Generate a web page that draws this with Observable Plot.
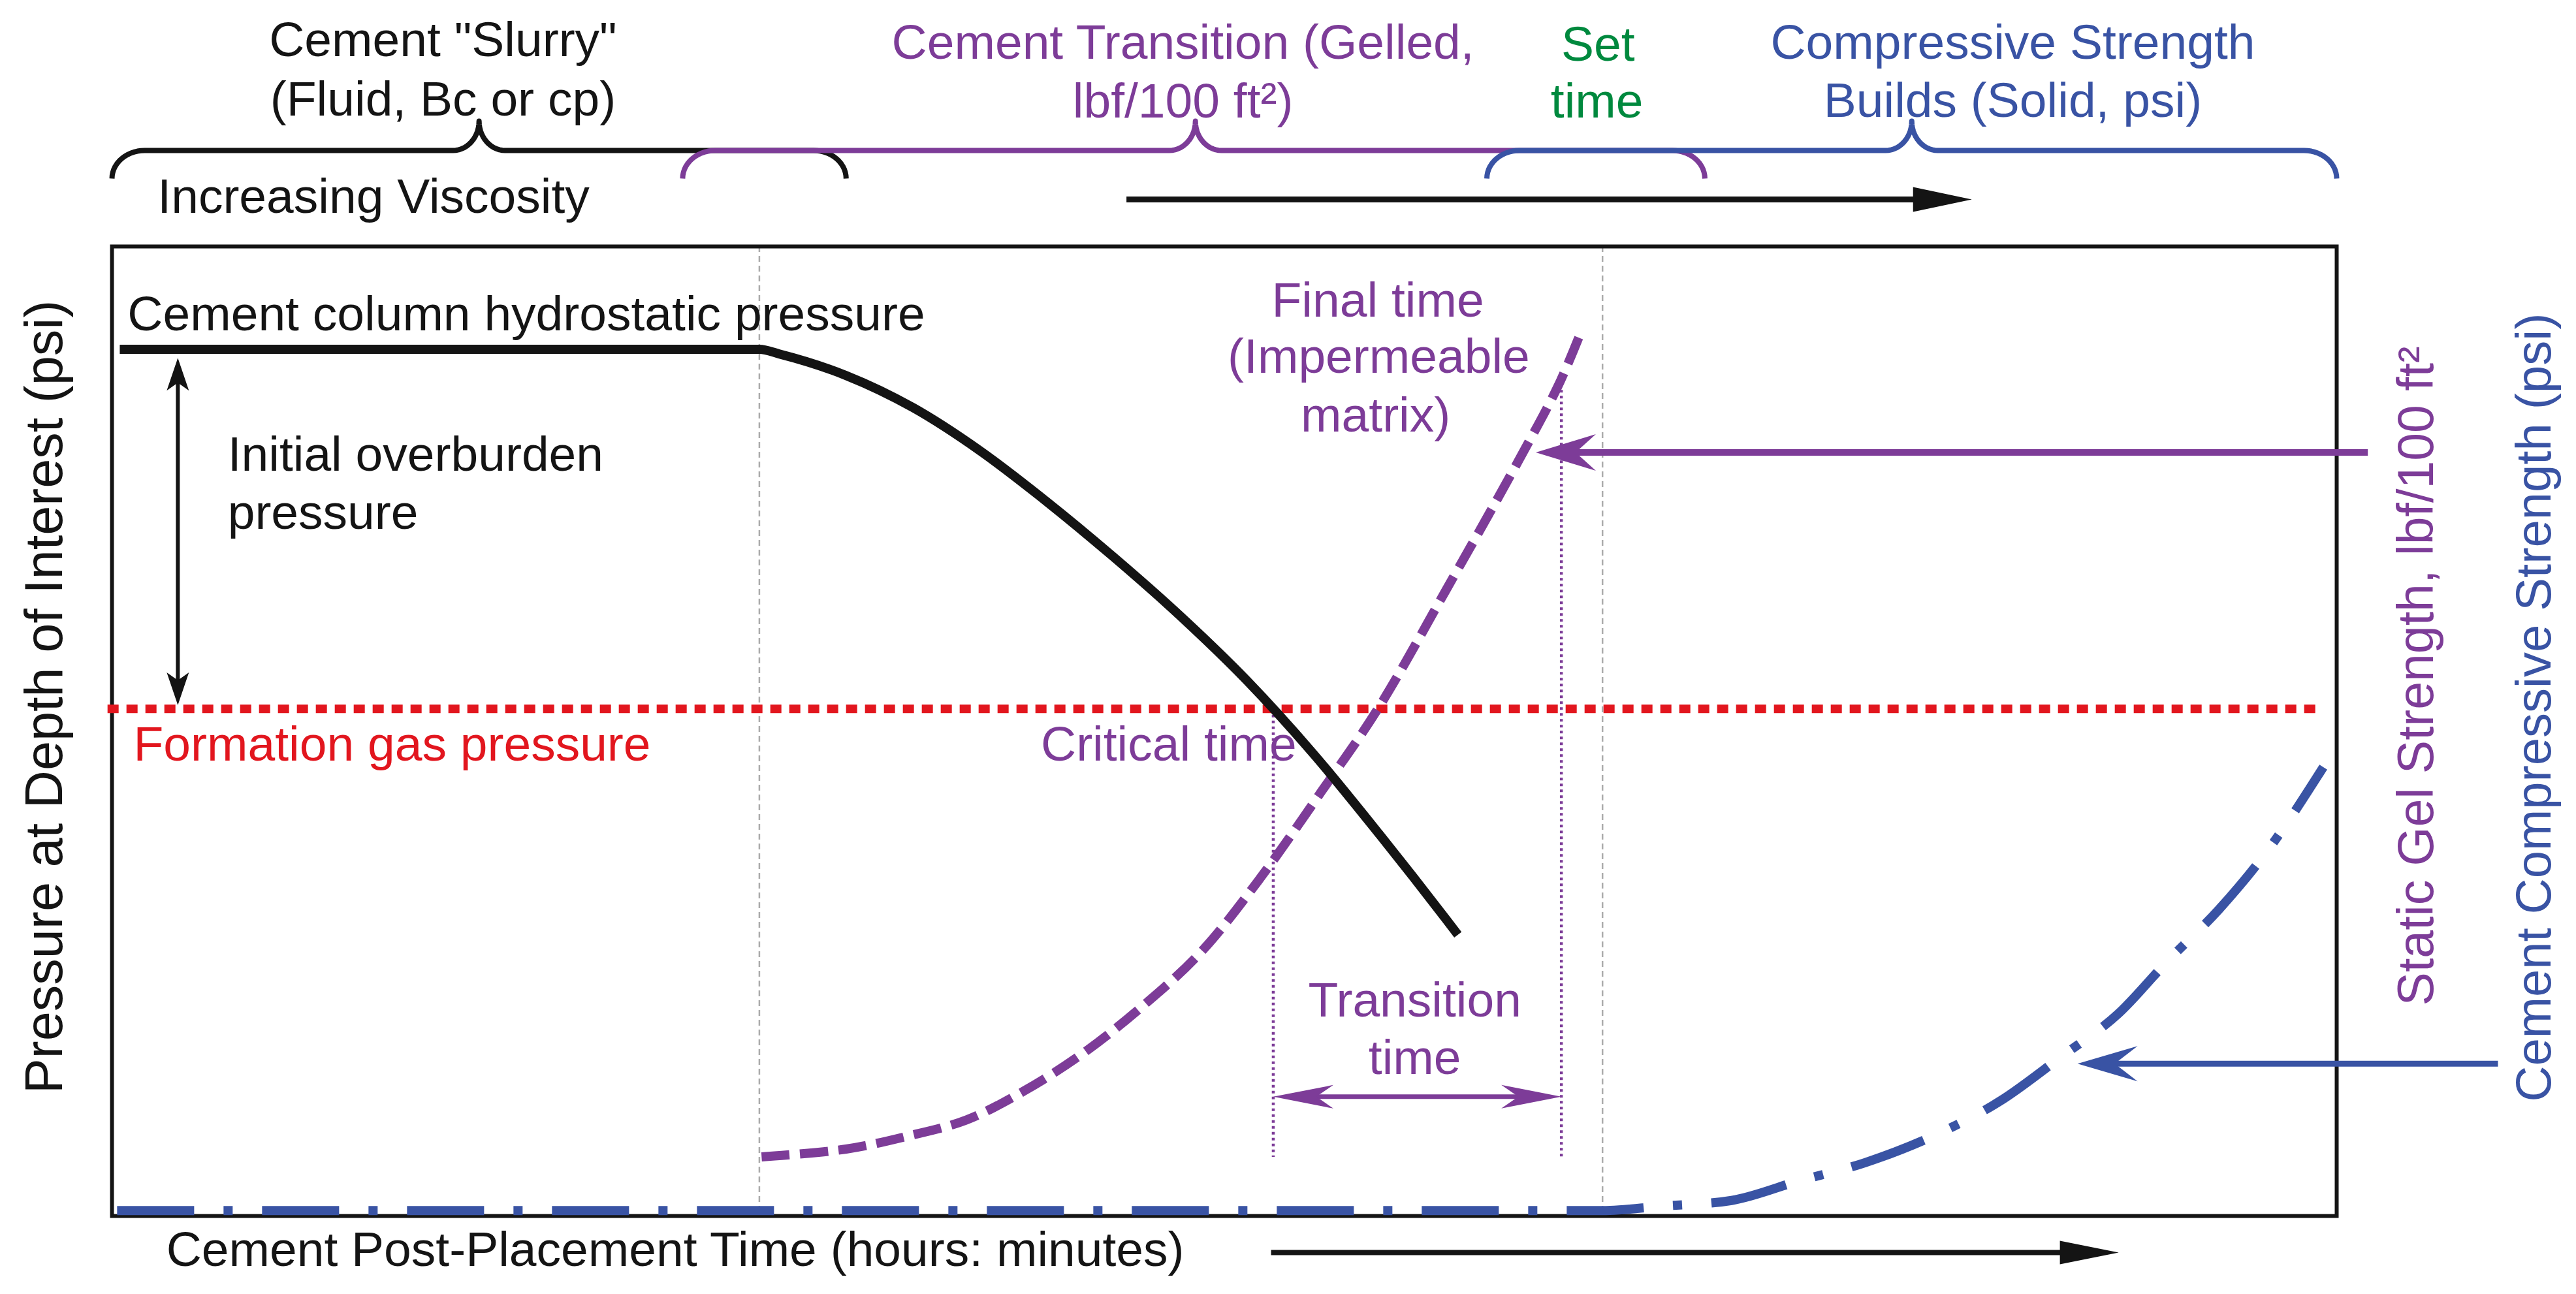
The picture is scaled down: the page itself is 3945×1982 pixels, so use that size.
<!DOCTYPE html>
<html>
<head>
<meta charset="utf-8">
<script src="https://cdn.jsdelivr.net/npm/d3@7"></script>
<script src="https://cdn.jsdelivr.net/npm/@observablehq/plot@0.6"></script>
<style>
  html, body { margin: 0; padding: 0; background: #fff; }
  #chart svg { display: block; }
</style>
</head>
<body>
<div id="chart"></div>
<script>
// ---------- layout ----------
const W = 3945, H = 1982, mL = 171, mR = 367, mT = 377, mB = 120;
const kx = (W - mL - mR) / 100, ky = (H - mT - mB) / 100; // px per data unit

const INK = "#141414", PURPLE = "#7d3c98", BLUE = "#3953a4", RED = "#e2161e", GREEN = "#00893e", GRAY = "#ababab";

// ---------- data (time 0–100, pressure / strength 0–100, schematic units) ----------
const hydrostaticPressure = [[0.35,89.4],[29.1,89.4],[30,88.91],[33,86.69],[36,83.39],[39,78.96],[42,73.71],[45,68.01],[48,61.93],[51,55.26],[54,47.68],[57,39.28],[60,30.5],[60.5,29.0]];
const staticGelStrength   = [[29.2,6.1],[33.0,6.9],[35.7,8.2],[38.4,9.9],[41.0,12.9],[43.6,16.7],[46.2,21.4],[48.9,27.1],[51.5,34.5],[54.4,43.9],[56.9,52.3],[60.0,64.7],[63.2,77.8],[65.0,85.6],[66.0,91.0]];
const compressiveStrength = [[0.23,0.55],[67.0,0.55],[69.6,1.0],[72.8,1.6],[75.8,3.6],[78.8,5.5],[82.1,8.5],[84.9,11.9],[87.6,16.4],[90.2,20.9],[92.4,26.3],[94.7,31.6],[96.8,37.4],[99.4,46.3]];
const formationGasPressure = 52.3;
const formationGasSpan = [-0.2, 99.3];
const phaseBoundaries = [29.1, 67.0];          // gel onset, set time
const criticalTime = 52.2, finalTime = 65.15;
const guideTops = [52.3, 85.2], guideBottom = 6.1;

const phases = [
  {name: "slurry",      start: 0,     end: 33.0, peak: 16.5, ink: INK},
  {name: "transition",  start: 25.65, end: 71.6, peak: 48.7, ink: PURPLE},
  {name: "compressive", start: 61.8,  end: 100,  peak: 80.9, ink: BLUE}
];
const braceLevel = 109.9;

const headerText = [
  ['Cement "Slurry"', 14.88, 119.66, INK],
  ['(Fluid, Bc or cp)', 14.88, 113.47, INK],
  ['Cement Transition (Gelled,', 48.14, 119.33, PURPLE],
  ['lbf/100 ft²)', 48.14, 113.27, PURPLE],
  ['Set', 66.8, 119.13, GREEN],
  ['time', 66.75, 113.27, GREEN],
  ['Compressive Strength', 85.44, 119.33, BLUE],
  ['Builds (Solid, psi)', 85.44, 113.4, BLUE],
  ['Final time', 56.9, 92.73, PURPLE],
  ['(Impermeable', 56.94, 86.94, PURPLE],
  ['matrix)', 56.8, 80.94, PURPLE],
  ['Critical time', 47.5, 46.94, PURPLE],
  ['Transition', 58.56, 20.54, PURPLE],
  ['time', 58.56, 14.68, PURPLE]
];
const leftText = [
  ['Increasing Viscosity', 2.05, 103.5, INK],
  ['Cement column hydrostatic pressure', 0.7, 91.38, INK],
  ['Initial overburden', 5.2, 76.9, INK],
  ['pressure', 5.2, 70.9, INK],
  ['Formation gas pressure', 0.97, 46.94, RED],
  ['Cement Post-Placement Time (hours: minutes)', 2.44, -5.12, INK]
];
const axisTitles = [
  ['Pressure at Depth of Interest (psi)', -3.02, 53.54, INK, 81],
  ['Static Gel Strength, lbf/100 ft²', 103.6, 55.7, PURPLE, 77],
  ['Cement Compressive Strength (psi)', 108.9, 52.46, BLUE, 76]
];

const arrows = [
  {x1: 45.6,   y1: 104.85, x2: 83.6,  y2: 104.85, ink: INK,    width: 9,  L: 90, W: 19},
  {x1: 52.1,   y1: -3.77,  x2: 90.2,  y2: -3.77,  ink: INK,    width: 8,  L: 90, W: 18},
  {x1: 101.4,  y1: 78.75,  x2: 64.0,  y2: 78.75,  ink: PURPLE, width: 10, L: 92, W: 28, N: 61},
  {x1: 107.25, y1: 15.7,   x2: 88.35, y2: 15.7,   ink: BLUE,   width: 9,  L: 92, W: 27, N: 57},
  {x1: criticalTime, y1: 12.3, x2: finalTime, y2: 12.3, ink: PURPLE, width: 7, L: 92, W: 18, N: 66, both: true},
  {x1: 2.96,   y1: 52.7,   x2: 2.96,  y2: 88.5,   ink: INK,    width: 6,  L: 50, W: 17, N: 38, both: true}
];

// ---------- helpers ----------
const pts = (arr) => arr.map(([t, v]) => ({t, v}));
const rows = (arr) => arr.map(([text, x, y, ink, size]) => ({text, x, y, ink, size}));

function bracePoints(p) {
  const out = [], n = 14, y = braceLevel;
  const rxE = 50 / kx, ryE = 43 / ky, rxC = 40 / kx, ryC = 45 / ky;
  const arc = (cx, cy, rx, ry, a0, a1) => {
    for (let i = 0; i <= n; i++) {
      const a = a0 + (a1 - a0) * i / n;
      out.push({x: cx + rx * Math.cos(a), y: cy + ry * Math.sin(a), id: p.name, ink: p.ink});
    }
  };
  const P = Math.PI;
  arc(p.start + rxE, y - ryE, rxE, ryE, P, P / 2);
  arc(p.peak - rxC, y + ryC, rxC, ryC, -P / 2, 0);
  arc(p.peak + rxC, y + ryC, rxC, ryC, P, 1.5 * P);
  arc(p.end - rxE, y - ryE, rxE, ryE, P / 2, 0);
  return out;
}

function headSymbol(L, Wd, N) {
  return {draw(ctx) { ctx.moveTo(0, 0); ctx.lineTo(-L, -Wd); ctx.lineTo(-N, 0); ctx.lineTo(-L, Wd); ctx.closePath(); }};
}

function arrowMarks(a) {
  const dxp = (a.x2 - a.x1) * kx, dyp = -(a.y2 - a.y1) * ky;
  const len = Math.hypot(dxp, dyp), ux = dxp / len, uy = dyp / len;
  const ang = Math.atan2(dyp, dxp) * 180 / Math.PI;
  const N = a.N ?? a.L;
  const cut = a.N ? a.N * 0.9 : a.L * 0.7;
  const sx = ux * cut / kx, sy = -uy * cut / ky;
  const shaft = {x1: a.x1 + (a.both ? sx : 0), y1: a.y1 + (a.both ? sy : 0), x2: a.x2 - sx, y2: a.y2 - sy};
  const heads = [{x: a.x2, y: a.y2, angle: ang}];
  if (a.both) heads.push({x: a.x1, y: a.y1, angle: ang + 180});
  return [
    Plot.link([shaft], {x1: "x1", y1: "y1", x2: "x2", y2: "y2", stroke: a.ink, strokeWidth: a.width, strokeLinecap: "butt"}),
    Plot.dot(heads, {x: "x", y: "y", rotate: "angle", symbol: headSymbol(a.L, a.W, N), fill: a.ink, stroke: "none"})
  ];
}

const braceData = phases.flatMap(bracePoints);

const chart = Plot.plot({
  width: W, height: H,
  marginLeft: mL, marginRight: mR, marginTop: mT, marginBottom: mB,
  x: {domain: [0, 100], axis: null},
  y: {domain: [0, 100], axis: null},
  color: {type: "identity"},
  style: {fontFamily: "'Liberation Sans', Arial, Helvetica, sans-serif", background: "#fff", overflow: "visible"},
  marks: [
    Plot.ruleX(phaseBoundaries, {stroke: GRAY, strokeWidth: 2.5, strokeDasharray: "9 6"}),
    Plot.frame({stroke: INK, strokeWidth: 6}),
    Plot.link([{x1: formationGasSpan[0], x2: formationGasSpan[1], y: formationGasPressure}],
      {x1: "x1", x2: "x2", y1: "y", y2: "y", stroke: RED, strokeWidth: 13, strokeDasharray: "17 12", strokeLinecap: "butt"}),
    Plot.link([{t: criticalTime, top: guideTops[0]}, {t: finalTime, top: guideTops[1]}],
      {x1: "t", x2: "t", y1: "top", y2: () => guideBottom, stroke: PURPLE, strokeWidth: 4.5, strokeDasharray: "4 5"}),
    Plot.line(pts(compressiveStrength), {x: "t", y: "v", stroke: BLUE, strokeWidth: 14, strokeDasharray: "118 45 14 45", strokeLinecap: "butt", curve: "monotone-x"}),
    Plot.line(pts(staticGelStrength), {x: "t", y: "v", stroke: PURPLE, strokeWidth: 14, strokeDasharray: "43 16", strokeLinecap: "butt", curve: "catmull-rom"}),
    Plot.line(pts(hydrostaticPressure), {x: "t", y: "v", stroke: INK, strokeWidth: 14, strokeLinecap: "butt", curve: "monotone-x"}),
    Plot.line(braceData, {x: "x", y: "y", z: "id", stroke: "ink", strokeWidth: 8, strokeLinejoin: "round", strokeLinecap: "butt"}),
    ...arrows.flatMap(arrowMarks),
    Plot.text(rows(headerText), {x: "x", y: "y", text: "text", fill: "ink", textAnchor: "middle", lineAnchor: "bottom", fontSize: 75}),
    Plot.text(rows(leftText), {x: "x", y: "y", text: "text", fill: "ink", textAnchor: "start", lineAnchor: "bottom", fontSize: 75}),
    ...rows(axisTitles).map(d => Plot.text([d], {x: "x", y: "y", text: "text", fill: "ink", rotate: -90, textAnchor: "middle", lineAnchor: "middle", fontSize: d.size}))
  ]
});

document.getElementById("chart").append(chart);
</script>
</body>
</html>
